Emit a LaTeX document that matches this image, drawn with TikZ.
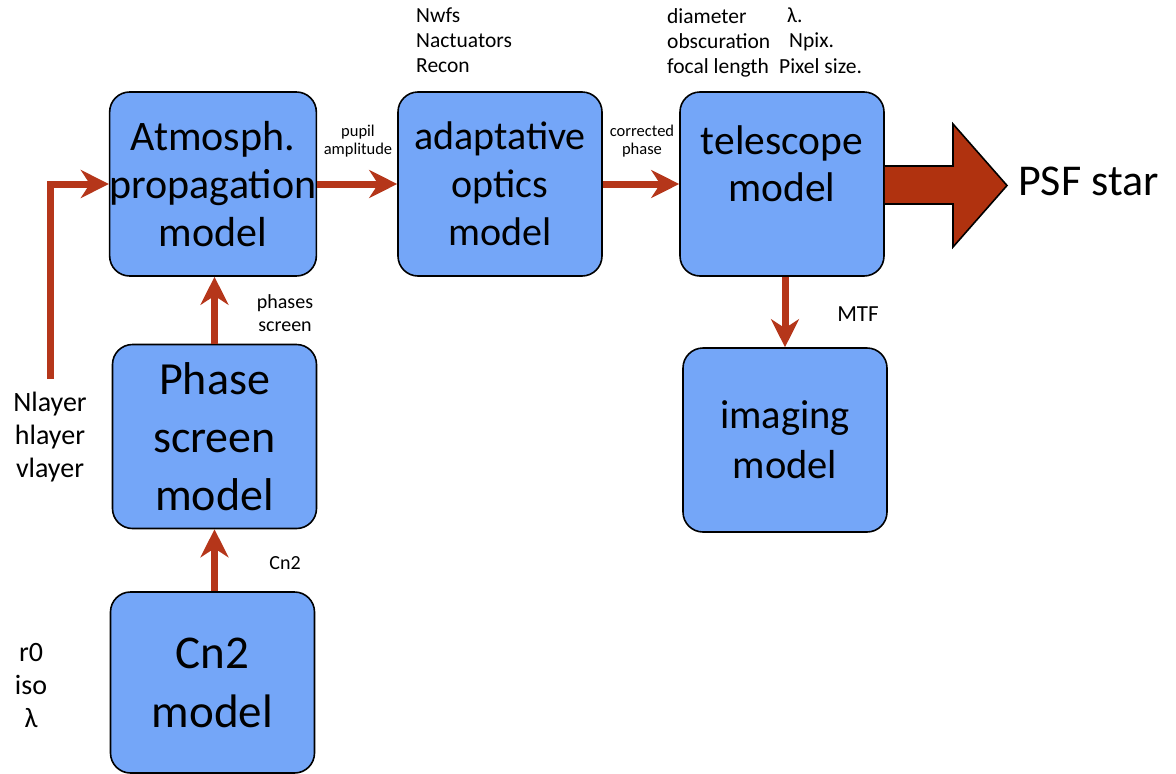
\documentclass[tikz,border=0pt]{standalone}
\usepackage{fontspec}
\setmainfont{Carlito}
\usetikzlibrary{arrows.meta}
\definecolor{boxblue}{HTML}{74A6F8}
\definecolor{arrred}{HTML}{B5361A}
\definecolor{bigred}{HTML}{B0320F}
\tikzset{
  x=1pt, y=-1pt,
  modelbox/.style={draw=black, line width=1.6pt, fill=boxblue, rounded corners=20pt,
    minimum width=204pt, minimum height=184pt, inner sep=0pt, align=center, text=black},
  flow/.style={draw=arrred, line width=7pt,
    -{Stealth[length=28pt,width=28pt,inset=9pt]}},
  smalllbl/.style={inner sep=0pt, align=center, font=\fontsize{16.5}{18}\selectfont},
  midlbl/.style={inner sep=0pt, align=center, font=\fontsize{20}{23}\selectfont},
  toplbl/.style={inner sep=0pt, align=left, anchor=north west, font=\fontsize{21.5}{25}\selectfont},
  sidelbl/.style={inner sep=0pt, align=center, font=\fontsize{28}{33}\selectfont},
}
\begin{document}
\begin{tikzpicture}
\useasboundingbox (0,0) rectangle (1176,774);
% boxes
\node[modelbox, font=\fontsize{42}{48}\selectfont] (atm) at (213,184) {Atmosph.\\propagation\\model};
\node[modelbox, font=\fontsize{40}{48}\selectfont] (ao) at (500,184) {adaptative\\optics\\model};
\node[modelbox, font=\fontsize{41.5}{47}\selectfont] (tel) at (782,184) {telescope\\model\\[-7pt]\mbox{}};
\node[modelbox, font=\fontsize{46}{58}\selectfont] (phs) at (214.5,436.5) {Phase\\screen\\model};
\node[modelbox, font=\fontsize{47}{59}\selectfont, minimum height=181pt] (cn2) at (212.5,682.5) {Cn2\\model};
\node[modelbox, font=\fontsize{40.5}{50}\selectfont] (img) at (785,440) {imaging\\model};
% connectors
\coordinate (nl) at (50,379);
\draw[flow] (nl) |- (atm.west);
\draw[flow] (atm.east) -- (ao.west);
\draw[flow] (ao.east) -- (tel.west);
\draw[flow] (phs.north) -- (phs.north |- atm.south);
\draw[flow] (cn2.north -| phs.south) -- (phs.south);
\draw[flow] (tel.south -| img.north) -- (img.north);
% big output arrow
\draw[fill=bigred, draw=black, line width=1.6pt, line join=miter]
  (tel.east |- 0,166) -- (953,166) -- (953,124) -- (1007,185.5) -- (953,247) -- (953,204) -- (tel.east |- 0,204);
\node[anchor=base west, inner sep=0pt, font=\fontsize{44}{50}\selectfont] (psf) at (1018,195) {PSF star};
% labels
\node[smalllbl] (pup) at (358,141) {pupil\\amplitude};
\node[smalllbl] (cor) at (642,141) {corrected\\phase};
\node[midlbl] (phl) at (285,313) {phases\\screen};
\node[midlbl] (cnl) at (285,563) {Cn2};
\node[midlbl, font=\fontsize{23}{23}\selectfont] (mtf) at (858,314) {MTF};
\node[toplbl] (aop) at (416,8) {Nwfs\\Nactuators\\Recon};
\node[toplbl] (telp) at (667,8) {diameter\\obscuration\\focal length};
\node[toplbl] (lam) at (787,8) {λ.};
\node[toplbl] (npx) at (789,33) {Npix.};
\node[toplbl] (pxs) at (779,58) {Pixel size.};
\node[sidelbl] (lay) at (50,437) {Nlayer\\hlayer\\vlayer};
\node[sidelbl] (rzero) at (31,685) {r0\\iso\\λ};
\end{tikzpicture}
\end{document}
